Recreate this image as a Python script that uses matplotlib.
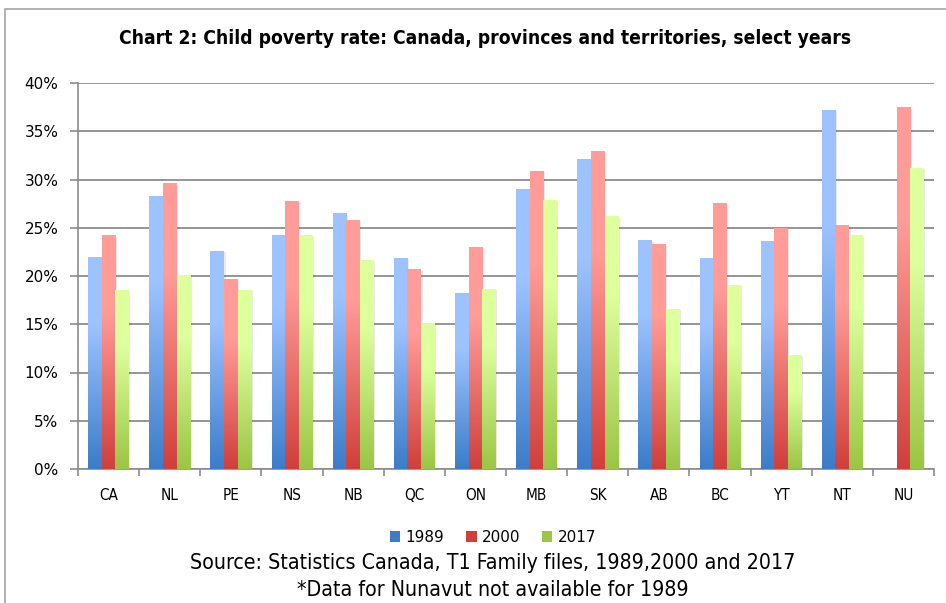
import numpy as np
import matplotlib.pyplot as plt
from matplotlib.colors import LinearSegmentedColormap
from matplotlib.patches import Patch, Rectangle
from matplotlib.ticker import FuncFormatter

regions = ['CA', 'NL', 'PE', 'NS', 'NB', 'QC', 'ON', 'MB', 'SK', 'AB', 'BC', 'YT', 'NT', 'NU']
years = ['1989', '2000', '2017']
rate_1989 = [22.0, 28.3, 22.6, 24.3, 26.5, 21.9, 18.2, 29.0, 32.1, 23.7, 21.9, 23.6, 37.2, np.nan]
rate_2000 = [24.2, 29.6, 19.7, 27.8, 25.8, 20.7, 23.0, 30.9, 33.0, 23.3, 27.6, 25.0, 25.3, 37.5]
rate_2017 = [18.5, 20.1, 18.6, 24.2, 21.7, 15.1, 18.7, 27.9, 26.2, 16.6, 19.1, 11.8, 24.3, 31.2]

# top colour, bottom colour for each series
shades = [('#9dc3ff', '#3b7cca'), ('#ff9c98', '#d03f3b'), ('#ddff9c', '#9bc545')]

W, H = 946, 603
fig = plt.figure(figsize=(W / 100, H / 100), dpi=100)
ax = fig.add_axes([78 / W, 1 - 469 / H, (934 - 78) / W, (469 - 83) / H])

# outer frame of the chart
fig.patches.append(Rectangle((5 / W, -0.1), 1.2, (H - 9) / H + 0.1, transform=fig.transFigure,
                             fill=False, edgecolor='#a6a6a6', lw=1.2))

x = np.arange(len(regions))
bw = 1 / 4.5
series = [rate_1989, rate_2000, rate_2017]
grad = np.linspace(1, 0, 256).reshape(-1, 1)

for i, vals in enumerate(series):
    cmap = LinearSegmentedColormap.from_list('g%d' % i, [(0, shades[i][1]), (0.68, shades[i][0]),
                                                         (1, shades[i][0])])
    offs = x + (i - 1) * bw
    bars = ax.bar(offs, vals, width=bw, color='none', edgecolor='none', zorder=3)
    for b in bars:
        h = b.get_height()
        if not np.isfinite(h):
            continue
        x0 = b.get_x()
        # soft shadow
        ax.add_patch(Rectangle((x0 + 0.025, 0), bw, h - 0.15, facecolor='#000000', alpha=0.08,
                               edgecolor='none', zorder=2.5))
        im = ax.imshow(grad, extent=[x0, x0 + bw, 0, h], aspect='auto', cmap=cmap,
                       vmin=0, vmax=1, zorder=3, interpolation='bilinear')
        im.set_clip_path(b)

ax.set_xlim(-0.5, len(regions) - 0.5)
ax.set_ylim(0, 40)
ax.set_yticks(np.arange(0, 41, 5))
ax.yaxis.set_major_formatter(FuncFormatter(lambda v, p: '%d%%' % v))
ax.grid(axis='y', color='#8c8c8c', lw=1.3, zorder=1)
ax.set_axisbelow(True)

ax.set_xticks(x)
ax.set_xticklabels(regions, fontsize=11, fontstretch='condensed')
ax.set_xticks(np.arange(-0.5, len(regions)), minor=True)
ax.tick_params(axis='x', which='major', length=0, pad=14)
ax.tick_params(axis='x', which='minor', length=5, color='#8c8c8c', width=1.2)
ax.tick_params(axis='y', length=6, color='#8c8c8c', width=1.2, labelsize=11, pad=8)

for s in ['top', 'right']:
    ax.spines[s].set_visible(False)
for s in ['left', 'bottom']:
    ax.spines[s].set_color('#8c8c8c')
    ax.spines[s].set_linewidth(1.2)

fig.text(485 / W, 1 - 38 / H, 'Chart 2: Child poverty rate: Canada, provinces and territories, select years',
         ha='center', va='center', fontsize=13.8, fontweight='bold', fontstretch='condensed')

handles = [Patch(facecolor=shades[i][1], edgecolor='none') for i in range(3)]
fig.legend(handles, years, loc='center', bbox_to_anchor=(493 / W, 1 - 537 / H), ncol=3, frameon=False,
           fontsize=11, handlelength=0.7, handleheight=0.7, handletextpad=0.35, columnspacing=1.4)

fig.text(493 / W, 1 - 563 / H, 'Source: Statistics Canada, T1 Family files, 1989,2000 and 2017',
         ha='center', va='center', fontsize=15.3, fontstretch='condensed')
fig.text(493 / W, 1 - 590 / H, '*Data for Nunavut not available for 1989',
         ha='center', va='center', fontsize=15.3, fontstretch='condensed')

fig.savefig('out.png', dpi=100)
